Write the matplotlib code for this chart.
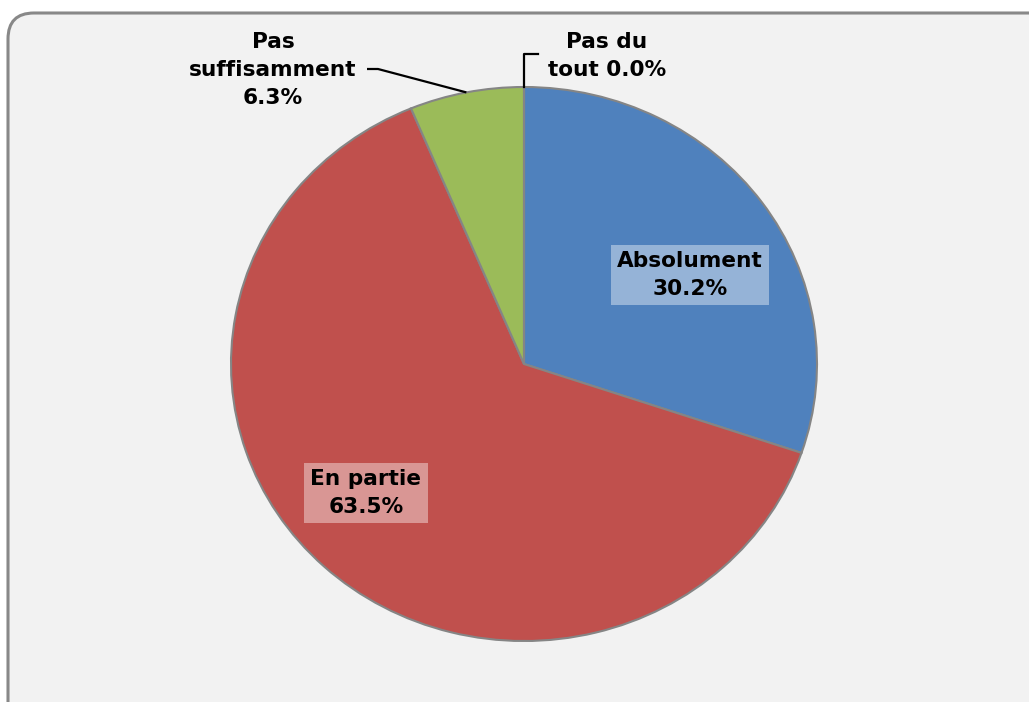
import matplotlib
matplotlib.use("Agg")
import matplotlib.pyplot as plt
from matplotlib.patches import FancyBboxPatch
import numpy as np

labels = ["Absolument", "En partie", "Pas\nsuffisamment", "Pas du\ntout"]
values = [30.2, 63.5, 6.3, 0.0]
colors = ["#4F81BD", "#C0504D", "#9BBB59", "#8064A2"]
box_colors = ["#95B3D7", "#D99694", None, None]

W, H = 1029, 702
cx, cy = 524, 364      # pie centre in pixels (from top)
rx, ry = 293, 277      # pie is a bit wider than tall

fig = plt.figure(figsize=(W / 100, H / 100), dpi=100)
fig.patch.set_facecolor("white")

# background panel with rounded corners
bg = fig.add_axes([0, 0, 1, 1])
bg.set_xlim(0, W)
bg.set_ylim(H, 0)
bg.axis("off")
bg.add_patch(FancyBboxPatch((8, 13), 1060, 720, boxstyle="round,pad=0,rounding_size=26",
                            fc="#F2F2F2", ec="#888888", lw=2.2))

ax = fig.add_axes([0, 0, 1, 1])
wedges, _ = ax.pie(values, colors=colors, startangle=90, counterclock=False,
                   wedgeprops=dict(edgecolor="#858585", linewidth=1.5))
ax.axis("off")
ax.set_aspect("auto")
ax.set_xlim(-cx / rx, (W - cx) / rx)
ax.set_ylim(-(H - cy) / ry, cy / ry)


def px(x, y):
    return (x - cx) / rx, (cy - y) / ry


def mid(i):
    start = 90 - sum(values[:i]) * 3.6
    a = np.radians(start - values[i] * 1.8)
    return np.cos(a), np.sin(a)


font = dict(fontsize=15.6, fontweight="bold", color="black", family="DejaVu Sans")

# inside labels
for i, pos in [(0, (690, 275)), (1, (366, 493))]:
    ax.text(*px(*pos), "%s\n%.1f%%" % (labels[i], values[i]), ha="center", va="center",
            linespacing=1.5, bbox=dict(boxstyle="square,pad=0.28", fc=box_colors[i], ec="none"),
            **font)

# outside label: Pas suffisamment
ax.text(*px(273, 70), "%s\n%.1f%%" % (labels[2], values[2]), ha="center", va="center",
        linespacing=1.5, **font)
gx, gy = mid(2)
x0, y0 = px(367, 69)
x1, y1 = px(378, 69)
ax.plot([x0, x1, gx], [y0, y1, gy], color="black", lw=1.6, solid_capstyle="butt")

# outside label: Pas du tout
ax.text(*px(607, 56), "%s %.1f%%" % (labels[3], values[3]), ha="center", va="center",
        linespacing=1.5, **font)
zx, zy = mid(3)
ax.plot([zx, zx, px(538, 54)[0]], [zy, px(0, 54)[1], px(0, 54)[1]], color="black", lw=1.6)

fig.savefig("out.png", dpi=100, facecolor=fig.get_facecolor())
